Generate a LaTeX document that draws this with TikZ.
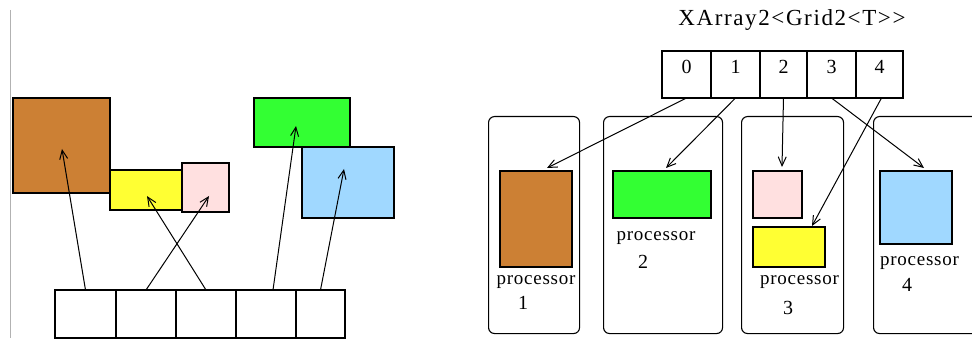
\documentclass[tikz,border=0pt]{standalone}
\usepackage{fontspec}
\setmainfont{Liberation Serif}
\usetikzlibrary{arrows.meta}

\definecolor{bronze}{RGB}{204,128,52}
\definecolor{lemon}{RGB}{255,255,51}
\definecolor{blush}{RGB}{255,224,224}
\definecolor{lime}{RGB}{51,255,51}
\definecolor{sky}{RGB}{160,216,255}

\tikzset{
  blk/.style={draw, line width=1.2pt, inner sep=0pt, outer sep=0pt, anchor=north west},
  cell/.style={draw, line width=1.1pt, inner sep=0pt, outer sep=0pt, anchor=north west},
  proc/.style={draw, line width=1.1pt, rounded corners=6pt, inner sep=0pt, anchor=north west},
  ptr/.style={line width=1pt, -{Straight Barb[length=9pt,width=8pt]}},
  lbl/.style={inner sep=0pt, font=\fontsize{19}{20}\selectfont\addfontfeature{LetterSpace=4}},
  num/.style={inner sep=0pt, font=\fontsize{20}{21}\selectfont},
}

\begin{document}
\begin{tikzpicture}[x=1pt,y=-1pt]
    \useasboundingbox (0,0) rectangle (972,339);
    \draw[gray!60, line width=0.8pt] (10.5,10) -- (10.5,338);

    % left: blocks in memory
    \node[blk, fill=bronze, minimum width=97pt, minimum height=95pt] (lbrown) at (13,98) {};
    \node[blk, fill=lemon, minimum width=72pt, minimum height=40pt] (lyellow) at (110,170) {};
    \node[blk, fill=blush, minimum width=47pt, minimum height=49pt] (lpink) at (182,163) {};
    \node[blk, fill=lime, minimum width=96pt, minimum height=49pt] (lgreen) at (254,98) {};
    \node[blk, fill=sky, minimum width=92pt, minimum height=71pt] (lblue) at (302,147) {};

    \node[cell, minimum width=61pt, minimum height=48pt] (a1) at (55,290) {};
    \node[cell, minimum width=60pt, minimum height=48pt] (a2) at (116,290) {};
    \node[cell, minimum width=60pt, minimum height=48pt] (a3) at (176,290) {};
    \node[cell, minimum width=60pt, minimum height=48pt] (a4) at (236,290) {};
    \node[cell, minimum width=49pt, minimum height=48pt] (a5) at (296,290) {};

    \draw[ptr] (a1.north) -- ([shift={(0.5,3.5)}]lbrown.center);
    \draw[ptr] (a2.north) -- ([shift={(3.5,8.5)}]lpink.center);
    \draw[ptr] (a3.north) -- ([shift={(1,6)}]lyellow.center);
    \draw[ptr] ([xshift=7]a4.north) -- ([shift={(-6,3.5)}]lgreen.center);
    \draw[ptr] (a5.north) -- ([shift={(-4,-13.5)}]lblue.center);

    % right: distributed array
    \node[inner sep=0pt, font=\fontsize{23}{24}\selectfont\addfontfeature{LetterSpace=7}] (title) at (792,20) {XArray2<Grid2<T>{}>};

    \node[cell, minimum width=49pt, minimum height=47pt] (c0) at (662,51) {};
    \node[cell, minimum width=49pt, minimum height=47pt] (c1) at (711,51) {};
    \node[cell, minimum width=47pt, minimum height=47pt] (c2) at (760,51) {};
    \node[cell, minimum width=49pt, minimum height=47pt] (c3) at (807,51) {};
    \node[cell, minimum width=47pt, minimum height=47pt] (c4) at (856,51) {};
    \foreach \i in {0,...,4}
        \node[num, yshift=8pt] (n\i) at (c\i.center) {\i};

    \node[proc, minimum width=91pt, minimum height=217pt] (p1) at (488,116) {};
    \node[proc, minimum width=119pt, minimum height=217pt] (p2) at (603,116) {};
    \node[proc, minimum width=102pt, minimum height=217pt] (p3) at (741,116) {};
    \node[proc, minimum width=130pt, minimum height=217pt] (p4) at (873,116) {};

    \node[blk, fill=bronze, minimum width=72pt, minimum height=96pt] (rbrown) at (500,171) {};
    \node[blk, fill=lime, minimum width=98pt, minimum height=47pt] (rgreen) at (613,171) {};
    \node[blk, fill=blush, minimum width=49pt, minimum height=47pt] (rpink) at (753,171) {};
    \node[blk, fill=lemon, minimum width=72pt, minimum height=40pt] (ryellow) at (753,227) {};
    \node[blk, fill=sky, minimum width=72pt, minimum height=73pt] (rblue) at (880,171) {};

    \node[lbl] (t1) at (536,282) {processor};
    \node[num] (m1) at (523,303) {1};
    \node[lbl] (t2) at (656,238) {processor};
    \node[num] (m2) at (643,262) {2};
    \node[lbl] (t3) at (799.5,282) {processor};
    \node[num] (m3) at (788,308) {3};
    \node[lbl] (t4) at (919.5,263) {processor};
    \node[num] (m4) at (907,285) {4};

    \draw[ptr] (c0.south) -- ([shift={(11,-3)}]rbrown.north);
    \draw[ptr] (c1.south) -- ([shift={(4,-3)}]rgreen.north);
    \draw[ptr] (c2.south) -- ([shift={(4.5,-4)}]rpink.north);
    \draw[ptr] (c3.south) -- ([shift={(8,-3)}]rblue.north);
    \draw[ptr] ([xshift=2]c4.south) -- ([shift={(-13,-1)}]ryellow.north east);
\end{tikzpicture}
\end{document}
